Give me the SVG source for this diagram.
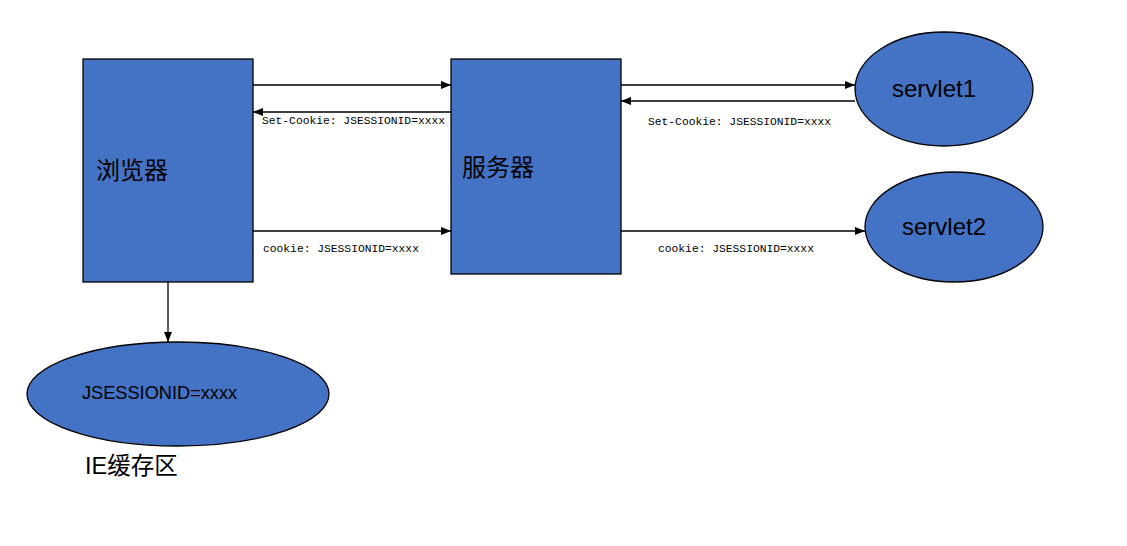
<svg xmlns="http://www.w3.org/2000/svg" width="1127" height="546" viewBox="0 0 1127 546">
<style>
.n{fill:#4472c4;stroke:#000;stroke-width:1.3}
.c{stroke:#000;stroke-width:1.3;fill:none;marker-end:url(#a)}
.m{font-family:"Liberation Mono",monospace;font-size:11.3px;fill:#000}
.s{font-family:"Liberation Sans",Arial,sans-serif;fill:#000}
.z{font-family:"Liberation Sans","Noto Sans CJK SC",sans-serif;fill:#000}
</style>
<defs>
<marker id="a" markerWidth="10" markerHeight="8" refX="10" refY="4" orient="auto" markerUnits="userSpaceOnUse">
<path d="M0,0 L10,4 L0,8 Z" fill="#000"/>
</marker>
</defs>
<rect width="1127" height="546" fill="#fff"/>
<g id="browser"><rect class="n" x="83" y="59" width="170" height="223"/><text class="z" x="96" y="179" font-size="24">浏览器</text></g>
<g id="server"><rect class="n" x="451" y="59" width="170" height="215"/><text class="z" x="462" y="176" font-size="24">服务器</text></g>
<g id="servlet1"><ellipse class="n" cx="944" cy="89" rx="89" ry="57"/><text class="s" x="892" y="97" font-size="24">servlet1</text></g>
<g id="servlet2"><ellipse class="n" cx="954" cy="227" rx="89" ry="55"/><text class="s" x="902" y="235" font-size="24">servlet2</text></g>
<g id="cache"><ellipse class="n" cx="178" cy="394" rx="151" ry="52"/><text class="s" x="82" y="399" font-size="18.2">JSESSIONID=xxxx</text><text class="z" x="85" y="474" font-size="23.5">IE缓存区</text></g>
<g id="connectors">
<line class="c" x1="253" y1="85" x2="451" y2="85"/>
<line class="c" x1="451" y1="112" x2="253" y2="112"/>
<line class="c" x1="253" y1="231" x2="451" y2="231"/>
<line class="c" x1="621" y1="85" x2="855" y2="85"/>
<line class="c" x1="855" y1="101" x2="621" y2="101"/>
<line class="c" x1="621" y1="231" x2="865" y2="231"/>
<line class="c" x1="168" y1="282" x2="168" y2="342"/>
<text class="m" x="262" y="124">Set-Cookie: JSESSIONID=xxxx</text>
<text class="m" x="648" y="125">Set-Cookie: JSESSIONID=xxxx</text>
<text class="m" x="263" y="252">cookie: JSESSIONID=xxxx</text>
<text class="m" x="658" y="252">cookie: JSESSIONID=xxxx</text>
</g>
</svg>
